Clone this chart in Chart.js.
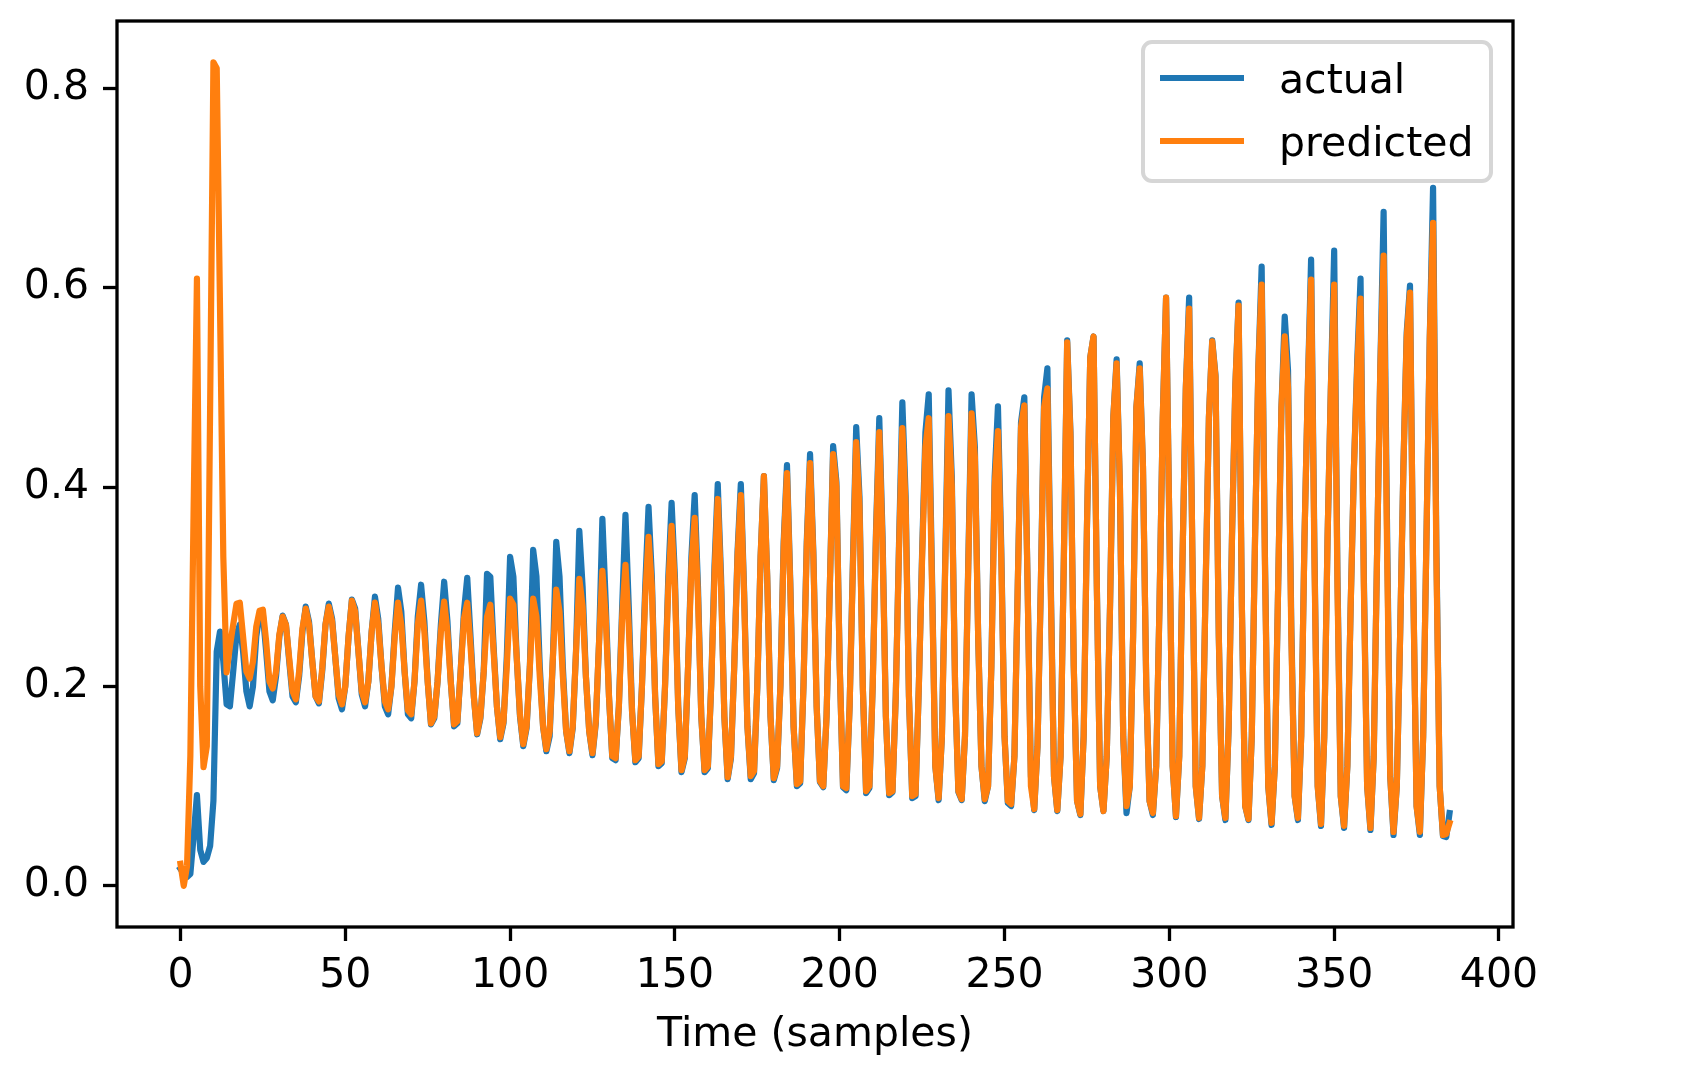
<!DOCTYPE html>
<html>
<head>
<meta charset="utf-8">
<title>actual vs predicted</title>
<script src="https://cdn.jsdelivr.net/npm/chart.js@4.4.1/dist/chart.umd.min.js"></script>
<style>
    html, body { margin: 0; padding: 0; background: #fff; }
    #chart { display: block; }
</style>
</head>
<body>
<canvas id="chart" width="1692" height="1075"></canvas>
<script>
// values, one per sample (x = sample index)
const actual = [
    0.017, 0.012, 0.009, 0.012, 0.050, 0.091, 0.036, 0.024, 0.028, 0.040,
    0.085, 0.235, 0.255, 0.225, 0.182, 0.180, 0.215, 0.252, 0.262, 0.235,
    0.195, 0.180, 0.200, 0.250, 0.272, 0.272, 0.235, 0.195, 0.186, 0.210,
    0.250, 0.271, 0.262, 0.225, 0.190, 0.184, 0.210, 0.255, 0.280, 0.265,
    0.225, 0.190, 0.183, 0.215, 0.262, 0.283, 0.268, 0.228, 0.188, 0.177,
    0.200, 0.250, 0.287, 0.278, 0.235, 0.192, 0.180, 0.205, 0.255, 0.290,
    0.268, 0.220, 0.180, 0.172, 0.200, 0.255, 0.299, 0.275, 0.215, 0.172,
    0.168, 0.205, 0.270, 0.302, 0.265, 0.205, 0.162, 0.168, 0.205, 0.262,
    0.305, 0.265, 0.205, 0.160, 0.163, 0.215, 0.275, 0.309, 0.250, 0.190,
    0.152, 0.168, 0.215, 0.313, 0.310, 0.240, 0.180, 0.147, 0.163, 0.230,
    0.330, 0.310, 0.230, 0.170, 0.140, 0.158, 0.220, 0.337, 0.310, 0.220,
    0.160, 0.135, 0.150, 0.230, 0.345, 0.310, 0.220, 0.155, 0.133, 0.158,
    0.235, 0.356, 0.300, 0.210, 0.155, 0.131, 0.163, 0.245, 0.368, 0.285,
    0.190, 0.128, 0.126, 0.180, 0.280, 0.372, 0.280, 0.175, 0.124, 0.128,
    0.200, 0.300, 0.380, 0.310, 0.190, 0.120, 0.123, 0.200, 0.310, 0.384,
    0.310, 0.180, 0.114, 0.128, 0.220, 0.330, 0.392, 0.300, 0.170, 0.114,
    0.118, 0.200, 0.320, 0.403, 0.310, 0.170, 0.107, 0.128, 0.220, 0.335,
    0.403, 0.295, 0.160, 0.107, 0.113, 0.200, 0.330, 0.411, 0.310, 0.170,
    0.106, 0.118, 0.200, 0.345, 0.422, 0.305, 0.160, 0.100, 0.103, 0.200,
    0.345, 0.433, 0.335, 0.180, 0.104, 0.099, 0.170, 0.300, 0.441, 0.405,
    0.220, 0.099, 0.096, 0.180, 0.325, 0.460, 0.390, 0.200, 0.093, 0.098,
    0.200, 0.355, 0.469, 0.350, 0.170, 0.091, 0.094, 0.190, 0.345, 0.485,
    0.390, 0.190, 0.088, 0.090, 0.200, 0.335, 0.455, 0.493, 0.310, 0.120,
    0.086, 0.150, 0.325, 0.497, 0.410, 0.200, 0.094, 0.086, 0.150, 0.325,
    0.493, 0.440, 0.250, 0.120, 0.085, 0.100, 0.220, 0.410, 0.481, 0.340,
    0.150, 0.083, 0.080, 0.130, 0.300, 0.465, 0.490, 0.300, 0.110, 0.076,
    0.140, 0.300, 0.490, 0.519, 0.310, 0.110, 0.075, 0.130, 0.330, 0.547,
    0.455, 0.220, 0.085, 0.071, 0.150, 0.360, 0.530, 0.551, 0.300, 0.100,
    0.075, 0.130, 0.280, 0.470, 0.528, 0.400, 0.150, 0.073, 0.100, 0.250,
    0.480, 0.524, 0.420, 0.200, 0.085, 0.071, 0.120, 0.280, 0.470, 0.590,
    0.360, 0.120, 0.069, 0.130, 0.330, 0.500, 0.590, 0.330, 0.100, 0.067,
    0.120, 0.300, 0.470, 0.547, 0.512, 0.250, 0.090, 0.066, 0.160, 0.350,
    0.500, 0.585, 0.280, 0.080, 0.066, 0.150, 0.350, 0.520, 0.621, 0.330,
    0.100, 0.061, 0.120, 0.300, 0.480, 0.571, 0.517, 0.260, 0.090, 0.066,
    0.150, 0.350, 0.500, 0.628, 0.340, 0.100, 0.060, 0.150, 0.350, 0.500,
    0.637, 0.310, 0.090, 0.058, 0.120, 0.280, 0.420, 0.527, 0.609, 0.310,
    0.100, 0.056, 0.130, 0.330, 0.520, 0.676, 0.370, 0.110, 0.051, 0.100,
    0.250, 0.420, 0.555, 0.602, 0.300, 0.080, 0.051, 0.150, 0.350, 0.550,
    0.700, 0.340, 0.100, 0.050, 0.049, 0.073
];

const predicted = [
    0.022, 0.000, 0.020, 0.130, 0.380, 0.609, 0.200, 0.119, 0.140, 0.480,
    0.826, 0.820, 0.580, 0.330, 0.214, 0.240, 0.262, 0.283, 0.284, 0.250,
    0.215, 0.208, 0.225, 0.260, 0.276, 0.277, 0.245, 0.205, 0.198, 0.215,
    0.252, 0.270, 0.262, 0.228, 0.195, 0.187, 0.215, 0.258, 0.278, 0.262,
    0.225, 0.190, 0.185, 0.218, 0.262, 0.280, 0.265, 0.228, 0.192, 0.182,
    0.200, 0.250, 0.286, 0.275, 0.235, 0.195, 0.184, 0.205, 0.255, 0.284,
    0.262, 0.220, 0.185, 0.177, 0.200, 0.250, 0.284, 0.262, 0.215, 0.176,
    0.172, 0.205, 0.262, 0.286, 0.255, 0.205, 0.163, 0.170, 0.205, 0.255,
    0.285, 0.255, 0.205, 0.162, 0.165, 0.215, 0.268, 0.284, 0.240, 0.190,
    0.153, 0.170, 0.215, 0.270, 0.282, 0.235, 0.180, 0.149, 0.165, 0.220,
    0.288, 0.282, 0.230, 0.172, 0.142, 0.160, 0.220, 0.288, 0.270, 0.210,
    0.160, 0.137, 0.155, 0.230, 0.297, 0.275, 0.210, 0.155, 0.135, 0.160,
    0.235, 0.308, 0.280, 0.210, 0.155, 0.133, 0.165, 0.245, 0.316, 0.270,
    0.190, 0.130, 0.128, 0.180, 0.270, 0.322, 0.260, 0.175, 0.126, 0.130,
    0.200, 0.290, 0.350, 0.300, 0.190, 0.122, 0.125, 0.200, 0.300, 0.361,
    0.300, 0.180, 0.116, 0.130, 0.220, 0.320, 0.369, 0.290, 0.170, 0.116,
    0.120, 0.200, 0.310, 0.388, 0.300, 0.170, 0.109, 0.130, 0.220, 0.330,
    0.392, 0.290, 0.160, 0.110, 0.115, 0.200, 0.330, 0.411, 0.310, 0.170,
    0.108, 0.120, 0.200, 0.340, 0.414, 0.300, 0.160, 0.102, 0.105, 0.200,
    0.340, 0.424, 0.330, 0.180, 0.105, 0.100, 0.170, 0.300, 0.433, 0.400,
    0.220, 0.100, 0.098, 0.180, 0.320, 0.445, 0.380, 0.200, 0.095, 0.100,
    0.200, 0.350, 0.455, 0.340, 0.170, 0.093, 0.095, 0.190, 0.340, 0.459,
    0.380, 0.190, 0.090, 0.092, 0.200, 0.330, 0.440, 0.469, 0.300, 0.120,
    0.088, 0.150, 0.320, 0.471, 0.400, 0.200, 0.095, 0.087, 0.150, 0.320,
    0.474, 0.430, 0.250, 0.120, 0.087, 0.100, 0.220, 0.400, 0.456, 0.330,
    0.150, 0.085, 0.082, 0.130, 0.300, 0.460, 0.482, 0.300, 0.100, 0.077,
    0.140, 0.300, 0.480, 0.499, 0.300, 0.110, 0.076, 0.130, 0.330, 0.545,
    0.450, 0.220, 0.085, 0.072, 0.150, 0.360, 0.530, 0.551, 0.300, 0.100,
    0.075, 0.130, 0.280, 0.470, 0.524, 0.400, 0.150, 0.080, 0.100, 0.250,
    0.480, 0.519, 0.420, 0.200, 0.085, 0.073, 0.120, 0.280, 0.470, 0.590,
    0.360, 0.120, 0.070, 0.130, 0.330, 0.500, 0.579, 0.330, 0.100, 0.068,
    0.120, 0.300, 0.470, 0.546, 0.510, 0.250, 0.090, 0.068, 0.160, 0.350,
    0.500, 0.582, 0.280, 0.080, 0.067, 0.150, 0.350, 0.520, 0.603, 0.320,
    0.100, 0.063, 0.120, 0.300, 0.480, 0.551, 0.500, 0.250, 0.090, 0.068,
    0.150, 0.350, 0.500, 0.608, 0.330, 0.100, 0.062, 0.150, 0.350, 0.500,
    0.603, 0.300, 0.090, 0.060, 0.120, 0.280, 0.420, 0.520, 0.589, 0.300,
    0.100, 0.058, 0.130, 0.330, 0.520, 0.632, 0.350, 0.110, 0.054, 0.100,
    0.250, 0.420, 0.550, 0.595, 0.300, 0.080, 0.054, 0.150, 0.350, 0.550,
    0.665, 0.330, 0.100, 0.051, 0.052, 0.063
];

const seriesLabels = ["actual", "predicted"];
const seriesColors = ["#1f77b4", "#ff7f0e"];
const xTicks = [0, 50, 100, 150, 200, 250, 300, 350, 400];
const yTicks = [0.0, 0.2, 0.4, 0.6, 0.8];
const xTitle = "Time (samples)";

// matplotlib-style 5% margins around the data
const X_MIN = -19.25, X_MAX = 404.25;
const Y_MIN = -0.0413, Y_MAX = 0.8674;

const FONT = "DejaVu Sans";
const FONT_SIZE = 41;
const LINE_W = 6.2;
const SPINE_W = 3.3;

// box round the plot area, drawn over the lines like matplotlib spines
const frame = {
    id: "frame",
    afterDatasetsDraw(chart) {
        const { ctx, chartArea: a } = chart;
        ctx.save();
        ctx.strokeStyle = "#000";
        ctx.lineWidth = SPINE_W;
        ctx.strokeRect(a.left, a.top, a.right - a.left, a.bottom - a.top);
        ctx.restore();
    }
};

// legend sits inside the axes, upper right
const insideLegend = {
    id: "insideLegend",
    afterDraw(chart) {
        const { ctx, chartArea: a } = chart;
        const w = 348, h = 139;
        const x0 = a.right - 22 - w;
        const y0 = a.top + 21;

        ctx.save();
        ctx.beginPath();
        ctx.roundRect(x0, y0, w, h, 9);
        ctx.fillStyle = "rgba(255,255,255,0.8)";
        ctx.fill();
        ctx.strokeStyle = "#d6d6d6";
        ctx.lineWidth = 4;
        ctx.stroke();

        ctx.font = `${FONT_SIZE}px "${FONT}"`;
        ctx.textBaseline = "alphabetic";
        ctx.fillStyle = "#000";
        seriesLabels.forEach((label, i) => {
            const y = y0 + 36 + i * 63;
            ctx.beginPath();
            ctx.moveTo(x0 + 17, y);
            ctx.lineTo(x0 + 101, y);
            ctx.strokeStyle = seriesColors[i];
            ctx.lineWidth = LINE_W;
            ctx.lineCap = "butt";
            ctx.stroke();
            ctx.fillText(label, x0 + 136, y + 14.5);
        });
        ctx.restore();
    }
};

const tickFont = { family: FONT, size: FONT_SIZE };
const tickGrid = {
    display: true,
    drawOnChartArea: false,
    drawTicks: true,
    tickLength: 14,
    tickWidth: SPINE_W,
    tickColor: "#000"
};

new Chart("chart", {
    type: "line",
    data: {
        datasets: [actual, predicted].map((values, i) => ({
            label: seriesLabels[i],
            data: values.map((y, x) => ({ x, y })),
            borderColor: seriesColors[i],
            backgroundColor: seriesColors[i],
            borderWidth: LINE_W,
            borderJoinStyle: "round",
            borderCapStyle: "square",
            pointRadius: 0,
            tension: 0,
            fill: false,
            order: i === 0 ? 2 : 1, // predicted drawn on top
        })),
    },
    options: {
        responsive: false,
        animation: false,
        devicePixelRatio: 1,
        layout: {
            padding: { left: 0, top: 21, right: 179, bottom: 0 },
        },
        plugins: {
            legend: { display: false },
            tooltip: { enabled: false },
        },
        scales: {
            x: {
                type: "linear",
                min: X_MIN,
                max: X_MAX,
                afterBuildTicks: s => { s.ticks = xTicks.map(v => ({ value: v })); },
                afterFit: s => {
                    s.height = 148;
                    s.paddingLeft = 0;
                    s.paddingRight = 0;
                },
                grid: tickGrid,
                border: { display: false },
                ticks: {
                    color: "#000",
                    font: tickFont,
                    padding: 11,
                    maxRotation: 0,
                    autoSkip: false,
                    callback: v => String(v),
                },
                title: {
                    display: true,
                    text: xTitle,
                    color: "#000",
                    font: tickFont,
                    padding: { top: 0, bottom: 15 },
                },
            },
            y: {
                type: "linear",
                min: Y_MIN,
                max: Y_MAX,
                afterBuildTicks: s => { s.ticks = yTicks.map(v => ({ value: v })); },
                afterFit: s => {
                    s.width = 117;
                    s.paddingTop = 0;
                    s.paddingBottom = 0;
                },
                grid: tickGrid,
                border: { display: false },
                ticks: {
                    color: "#000",
                    font: tickFont,
                    padding: 14,
                    autoSkip: false,
                    callback: v => v.toFixed(1),
                },
            },
        },
    },
    plugins: [frame, insideLegend],
});
</script>
</body>
</html>
